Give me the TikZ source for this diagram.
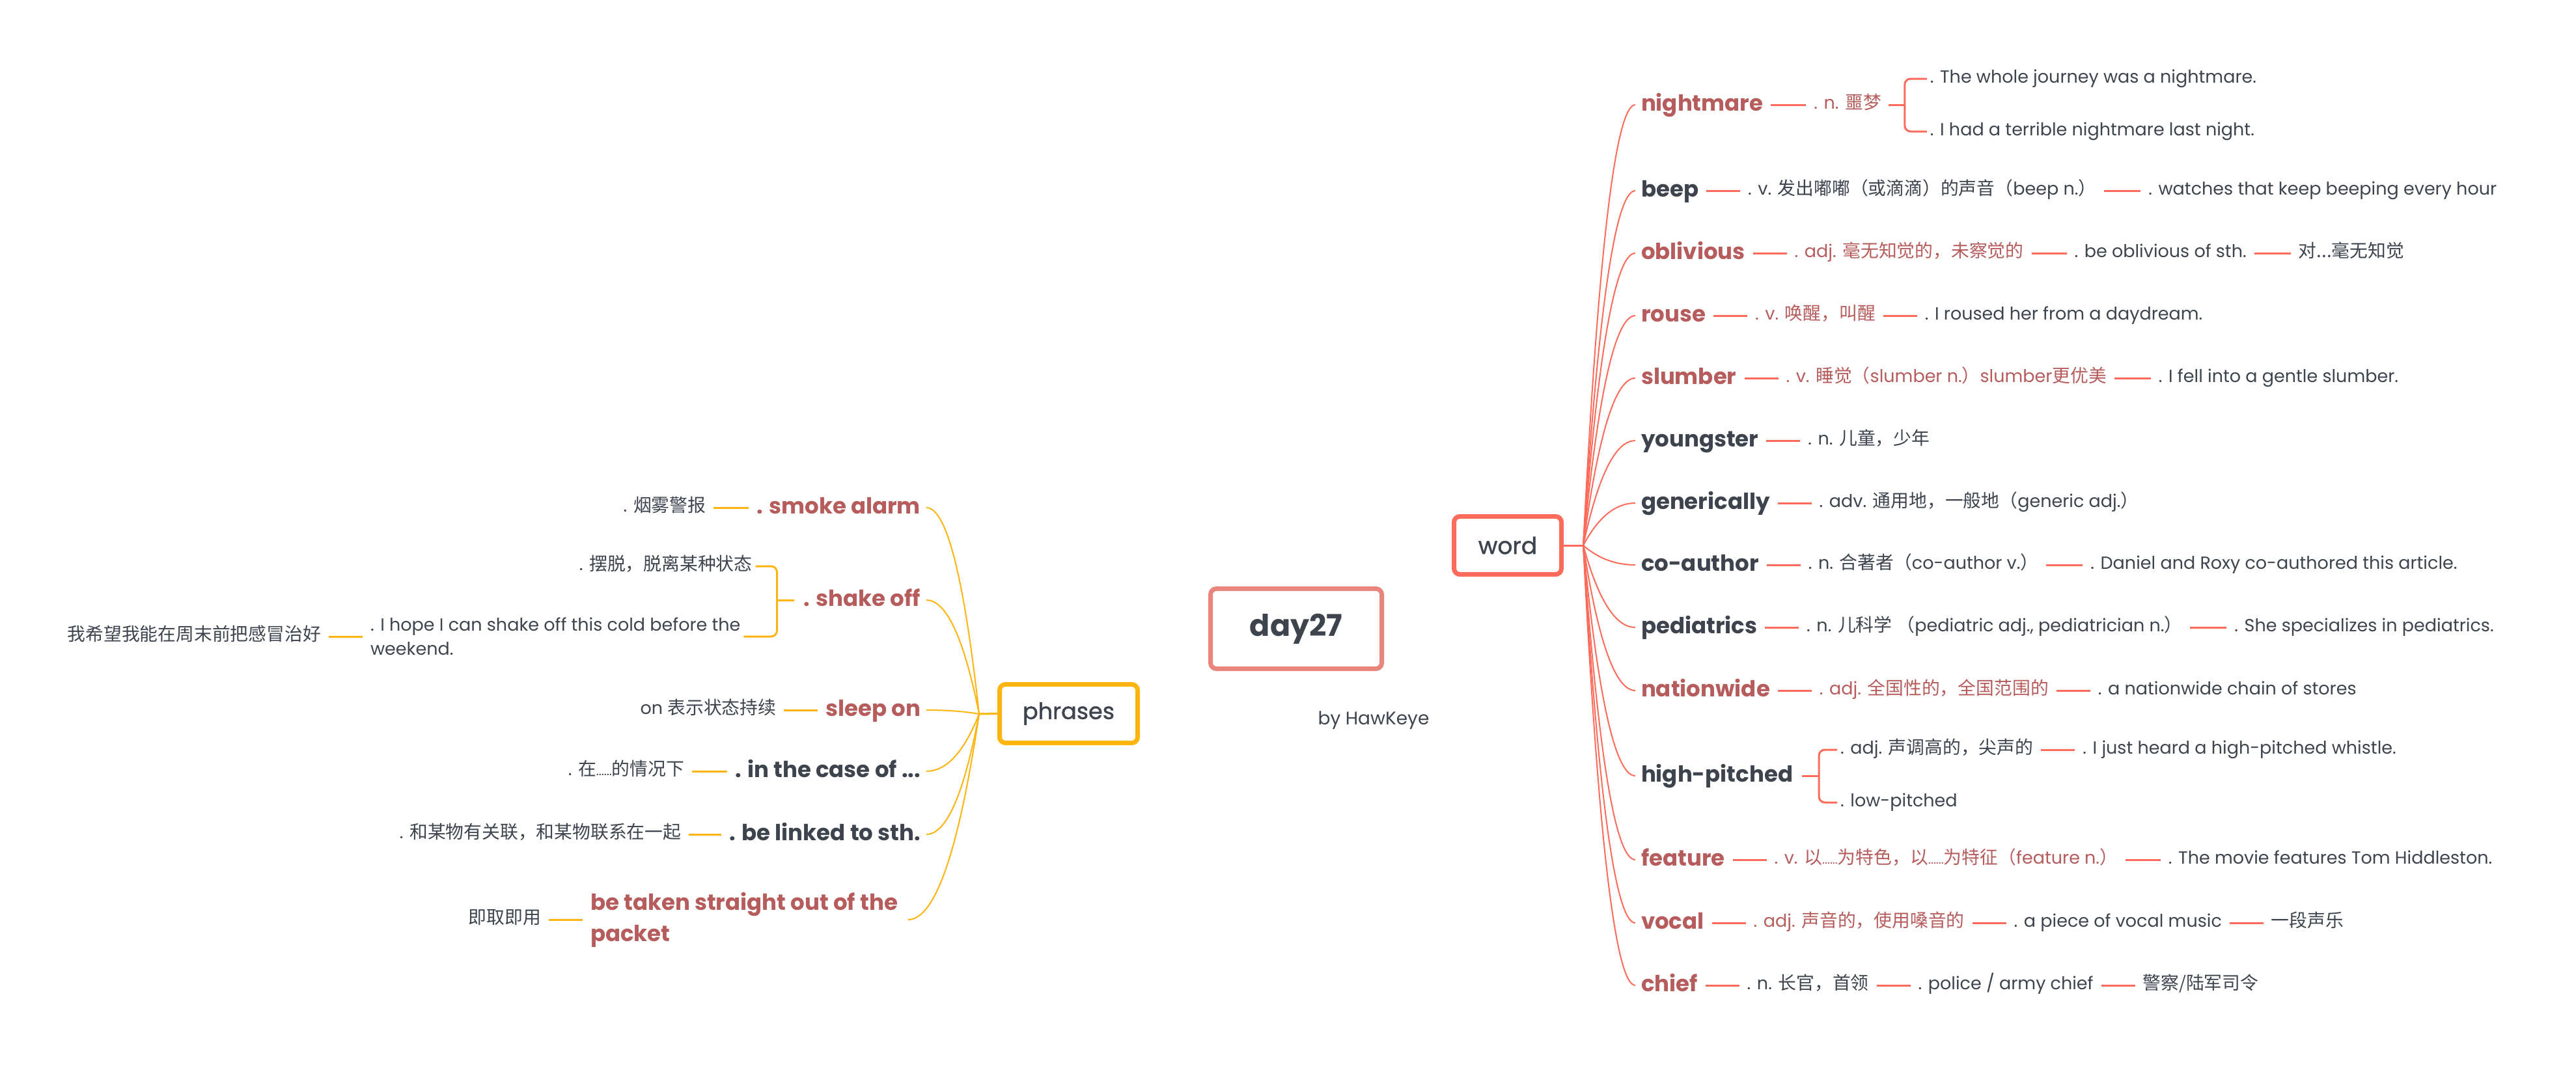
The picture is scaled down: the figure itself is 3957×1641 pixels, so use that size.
\documentclass[tikz,border=0pt]{standalone}
\usepackage{fontspec}
\setmainfont{Poppins}
\newfontfamily\cjkfont[Scale=1.03]{Noto Sans CJK SC}
\newfontfamily\semib[FakeBold=1.2]{Poppins}
\usetikzlibrary{positioning,calc}
\pgfdeclarelayer{bg}
\pgfsetlayers{bg,main}
\newcommand\zhc[1]{{\cjkfont #1}}
\newcommand\dts{{\fontsize{19pt}{20pt}\selectfont ......}}
\newcommand\fsS{\fontsize{27pt}{37pt}\selectfont}
\newcommand\fsB{\fontsize{34pt}{48pt}\selectfont\bfseries}
\definecolor{ink}{HTML}{3D444E}
\definecolor{rtxt}{HTML}{B75C5C}
\definecolor{coral}{HTML}{FF6B5A}
\definecolor{amber}{HTML}{FFB50F}
\definecolor{dayb}{HTML}{E8857C}
\newcommand\lnk[3]{\draw[#1] ([xshift=12pt]#2.east) -- ([xshift=-12pt]#3.west);}
\newcommand\mmcurve[3]{\draw[#1] let \p1=(#2), \p2=(#3) in (\p1) .. controls ({\x1+0.287*(\x2-\x1)},{\y1+0.667*(\y2-\y1)}) and ({\x2-0.38*(\x2-\x1)},{\y2}) .. (\p2);}
\tikzset{
  base/.style={inner sep=0pt, outer sep=0pt},
  sm/.style={base, font=\fsS, text=ink, text height=20pt, text depth=7pt},
  smr/.style={sm, text=rtxt},
  ml/.style={base, font=\fsS, text=ink, align=left},
  bw/.style={base, font=\fsB, text=ink, text height=26pt, text depth=8pt},
  bwr/.style={bw, text=rtxt},
  mlb/.style={base, font=\fsB, text=rtxt, align=left},
  stR/.style={draw=coral, line width=3pt},
  stA/.style={draw=amber, line width=3pt},
  crR/.style={draw=coral, line width=2pt},
  crA/.style={draw=amber, line width=2pt},
  box/.style={draw, fill=white, rounded corners=9pt, line width=7pt, inner sep=0pt, text=ink},
}
\begin{document}
\begin{tikzpicture}[x=1pt,y=-1pt]
\useasboundingbox[fill=white] (0,0) rectangle (3957,1641);
% central boxes
\node[box, draw=dayb, minimum width=263pt, minimum height=123pt, font=\fontsize{46pt}{50pt}\selectfont\bfseries] (day) at (1991,966) {day27};
\node[box, draw=coral, minimum width=165pt, minimum height=89pt, font=\fontsize{36pt}{40pt}\semib] (word) at (2316,838) {word};
\node[box, draw=amber, minimum width=212pt, minimum height=90pt, font=\fontsize{35pt}{40pt}\semib] (phr) at (1641.5,1096.5) {phrases};
\node[base, font=\fontsize{28pt}{32pt}\selectfont, text=ink] (by) at (2110,1107) {by HawKeye};
\begin{pgfonlayer}{bg}
\fill[coral] ([xshift=116pt]day.north) .. controls +(34,-48) and +(-44,0) .. ([yshift=3.5pt]word.west) -- ([yshift=-3.5pt]word.west) .. controls +(-40,0) and +(32,-40) .. ([xshift=132pt]day.north) -- cycle;
\fill[amber] ([xshift=-118pt]day.south) .. controls +(-32,40) and +(47,0) .. ([yshift=3pt]phr.east) -- ([yshift=-3pt]phr.east) .. controls +(40,0) and +(-33,44) .. ([xshift=-132pt]day.south) -- cycle;
\end{pgfonlayer}
\coordinate (hubR) at (2432,838);
\coordinate (hubL) at (1504,1097);
\draw[stR] (word.east) -- (hubR);
\draw[stA] (phr.west) -- (hubL);

% ===== right side =====
\node[bwr, anchor=west] (r1) at (2521,161) {nightmare};
\node[smr, right=78pt of r1] (r1a) {. n. \zhc{噩梦}};
\lnk{stR}{r1}{r1a}
\coordinate (r1b) at ([xshift=36pt]r1a.east);
\draw[stR] ([xshift=11pt]r1a.east) -- (r1b);
\node[sm, anchor=west] (r1c) at ([xshift=75pt,yshift=40pt]r1a.east) {. The whole journey was a nightmare.};
\node[sm, anchor=west] (r1d) at ([xshift=75pt,yshift=-41pt]r1a.east) {. I had a terrible nightmare last night.};
\draw[stR, rounded corners=9pt] ([xshift=-5pt]r1c.west) -| (r1b) |- ([xshift=-5pt]r1d.west);

\node[bw, anchor=west] (r2) at (2521,293) {beep};
\node[sm, right=76pt of r2] (r2a) {. v. \zhc{发出嘟嘟（或滴滴）的声音（}beep n.\zhc{）}};
\node[sm, right=80pt of r2a] (r2b) {. watches that keep beeping every hour};
\lnk{stR}{r2}{r2a}\lnk{stR}{r2a}{r2b}

\node[bwr, anchor=west] (r3) at (2521,389) {oblivious};
\node[smr, right=76pt of r3] (r3a) {. adj. \zhc{毫无知觉的，未察觉的}};
\node[sm, right=78pt of r3a] (r3b) {. be oblivious of sth.};
\node[sm, right=80pt of r3b] (r3c) {\zhc{对...毫无知觉}};
\lnk{stR}{r3}{r3a}\lnk{stR}{r3a}{r3b}\lnk{stR}{r3b}{r3c}

\node[bwr, anchor=west] (r4) at (2521,485) {rouse};
\node[smr, right=76pt of r4] (r4a) {. v. \zhc{唤醒，叫醒}};
\node[sm, right=76pt of r4a] (r4b) {. I roused her from a daydream.};
\lnk{stR}{r4}{r4a}\lnk{stR}{r4a}{r4b}

\node[bwr, anchor=west] (r5) at (2521,581) {slumber};
\node[smr, right=76pt of r5] (r5a) {. v. \zhc{睡觉（}slumber n.\zhc{）}slumber\zhc{更优美}};
\node[sm, right=80pt of r5a] (r5b) {. I fell into a gentle slumber.};
\lnk{stR}{r5}{r5a}\lnk{stR}{r5a}{r5b}

\node[bw, anchor=west] (r6) at (2521,677) {youngster};
\node[sm, right=76pt of r6] (r6a) {. n. \zhc{儿童，少年}};
\lnk{stR}{r6}{r6a}

\node[bw, anchor=west] (r7) at (2521,773) {generically};
\node[sm, right=76pt of r7] (r7a) {. adv. \zhc{通用地，一般地（}generic adj.\zhc{）}};
\lnk{stR}{r7}{r7a}

\node[bw, anchor=west] (r8) at (2521,868) {co-author};
\node[sm, right=76pt of r8] (r8a) {. n. \zhc{合著者（}co-author v.\zhc{）}};
\node[sm, right=80pt of r8a] (r8b) {. Daniel and Roxy co-authored this article.};
\lnk{stR}{r8}{r8a}\lnk{stR}{r8a}{r8b}

\node[bw, anchor=west] (r9) at (2521,964) {pediatrics};
\node[sm, right=76pt of r9] (r9a) {. n. \zhc{儿科学}\ \zhc{（}pediatric adj., pediatrician n.\zhc{）}};
\node[sm, right=80pt of r9a] (r9b) {. She specializes in pediatrics.};
\lnk{stR}{r9}{r9a}\lnk{stR}{r9a}{r9b}

\node[bwr, anchor=west] (r10) at (2521,1061) {nationwide};
\node[smr, right=76pt of r10] (r10a) {. adj. \zhc{全国性的，全国范围的}};
\node[sm, right=76pt of r10a] (r10b) {. a nationwide chain of stores};
\lnk{stR}{r10}{r10a}\lnk{stR}{r10a}{r10b}

\node[bw, anchor=west] (r11) at (2521,1192) {high-pitched};
\coordinate (r11b) at ([xshift=40pt]r11.east);
\draw[stR] ([xshift=14pt]r11.east) -- (r11b);
\node[sm, anchor=west] (r11c) at ([xshift=73pt,yshift=40pt]r11.east) {. adj. \zhc{声调高的，尖声的}};
\node[sm, anchor=west] (r11d) at ([xshift=73pt,yshift=-41pt]r11.east) {. low-pitched};
\draw[stR, rounded corners=9pt] ([xshift=-5pt]r11c.west) -| (r11b) |- ([xshift=-5pt]r11d.west);
\node[sm, right=76pt of r11c] (r11e) {. I just heard a high-pitched whistle.};
\lnk{stR}{r11c}{r11e}

\node[bwr, anchor=west] (r12) at (2521,1321) {feature};
\node[smr, right=76pt of r12] (r12a) {. v. \zhc{以}\dts\zhc{为特色，以}\dts\zhc{为特征（}feature n.\zhc{）}};
\node[sm, right=78pt of r12a] (r12b) {. The movie features Tom Hiddleston.};
\lnk{stR}{r12}{r12a}\lnk{stR}{r12a}{r12b}

\node[bwr, anchor=west] (r13) at (2521,1418) {vocal};
\node[smr, right=76pt of r13] (r13a) {. adj. \zhc{声音的，使用嗓音的}};
\node[sm, right=76pt of r13a] (r13b) {. a piece of vocal music};
\node[sm, right=76pt of r13b] (r13c) {\zhc{一段声乐}};
\lnk{stR}{r13}{r13a}\lnk{stR}{r13a}{r13b}\lnk{stR}{r13b}{r13c}

\node[bwr, anchor=west] (r14) at (2521,1514) {chief};
\node[sm, right=76pt of r14] (r14a) {. n. \zhc{长官，首领}};
\node[sm, right=76pt of r14a] (r14b) {. police / army chief};
\node[sm, right=76pt of r14b] (r14c) {\zhc{警察/陆军司令}};
\lnk{stR}{r14}{r14a}\lnk{stR}{r14a}{r14b}\lnk{stR}{r14b}{r14c}

\foreach \nd in {r1,r2,r3,r4,r5,r6,r7,r8,r9,r10,r11,r12,r13,r14}{\mmcurve{crR}{hubR}{[xshift=-9pt]\nd.west}}

% ===== left side =====
\node[bwr, anchor=east] (p1) at (1414,780) {. smoke alarm};
\node[sm, left=78pt of p1] (p1a) {. \zhc{烟雾警报}};
\lnk{stA}{p1a}{p1}

\node[bwr, anchor=east] (p2) at (1414,922) {. shake off};
\coordinate (p2b) at ([xshift=-41pt]p2.west);
\draw[stA] ([xshift=-15pt]p2.west) -- (p2b);
\node[sm, anchor=east] (p2c) at ([xshift=-38pt,yshift=52pt]p2b) {. \zhc{摆脱，脱离某种状态}};
\node[ml, anchor=west] (p2d) at (569,978) {. I hope I can shake off this cold before the\\weekend.};
\draw[stA, rounded corners=9pt] ([xshift=5pt]p2c.east) -| (p2b) |- ([xshift=5pt]p2d.east);
\node[sm, left=76pt of p2d] (p2e) {\zhc{我希望我能在周末前把感冒治好}};
\lnk{stA}{p2e}{p2d}

\node[bwr, anchor=east] (p3) at (1414,1091) {sleep on};
\node[sm, left=76pt of p3] (p3a) {on \zhc{表示状态持续}};
\lnk{stA}{p3a}{p3}

\node[bw, anchor=east] (p4) at (1414,1185) {. in the case of ...};
\node[sm, left=78pt of p4] (p4a) {. \zhc{在}\dts\zhc{的情况下}};
\lnk{stA}{p4a}{p4}

\node[bw, anchor=east] (p5) at (1414,1282) {. be linked to sth.};
\node[sm, left=74pt of p5] (p5a) {. \zhc{和某物有关联，和某物联系在一起}};
\lnk{stA}{p5a}{p5}

\node[mlb, anchor=west] (p6) at (907,1413) {be taken straight out of the\\packet};
\node[sm, left=76pt of p6] (p6a) {\zhc{即取即用}};
\lnk{stA}{p6a}{p6}

\foreach \nd in {p1,p2,p3,p4,p5}{\mmcurve{crA}{hubL}{[xshift=9pt]\nd.east}}
\mmcurve{crA}{hubL}{[xshift=16pt]p6.east}
\end{tikzpicture}
\end{document}
